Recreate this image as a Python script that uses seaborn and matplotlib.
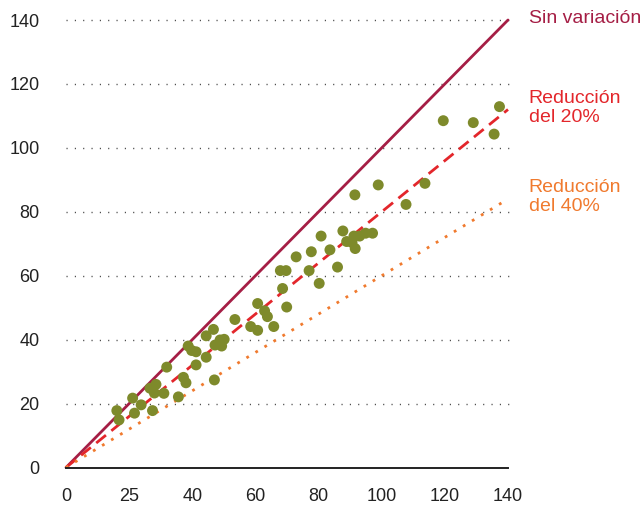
import numpy as np
import pandas as pd
import matplotlib
matplotlib.use("Agg")
import matplotlib.pyplot as plt
import seaborn as sns

# ---- data ----
x_vals = [16.1, 16.8, 21.1, 21.7, 23.8, 27.4, 26.6, 28.5, 28.0, 31.0,
          31.9, 35.6, 37.2, 38.0, 38.7, 39.8, 41.2, 41.2, 44.4, 47.0,
          44.4, 46.7, 47.2, 48.8, 49.3, 50.1, 53.5, 58.5, 60.7, 65.8,
          60.7, 62.9, 63.8, 69.9, 68.6, 67.9, 69.7, 72.9, 77.0, 80.2,
          77.7, 80.8, 83.6, 86.0, 87.7, 88.9, 90.6, 91.6, 91.2, 93.0,
          94.9, 97.1, 91.5, 98.9, 107.7, 113.7, 119.5, 129.0, 135.6, 137.3]
y_vals = [17.8, 14.9, 21.7, 17.0, 19.6, 17.8, 24.8, 26.0, 23.3, 23.2,
          31.4, 22.1, 28.2, 26.5, 38.0, 36.6, 36.2, 32.1, 34.5, 27.4,
          41.2, 43.2, 38.3, 39.9, 38.0, 40.1, 46.3, 44.1, 42.9, 44.1,
          51.3, 49.0, 47.2, 50.2, 56.0, 61.6, 61.6, 65.9, 61.6, 57.6,
          67.5, 72.4, 68.1, 62.7, 74.0, 70.7, 70.4, 68.5, 72.4, 72.4,
          73.3, 73.3, 85.3, 88.4, 82.3, 88.9, 108.5, 107.9, 104.3, 112.9]

ratios = [1.0, 0.8, 0.6]
ratio_labels = ["Sin variación", "Reducción\ndel 20%", "Reducción\ndel 40%"]
ratio_colors = ["#A51E45", "#E3262B", "#F07A2E"]
ratio_styles = ["-", (0, (4.5, 2.5)), (0, (1, 2.8))]

x_range = [0, 140]
y_ticks = [0, 20, 40, 60, 80, 100, 120, 140]
x_ticks = [0, 20, 40, 60, 80, 100, 120, 140]
x_ticklabels = ["0", "25", "40", "60", "80", "100", "120", "140"]

point_color = "#7E8A2B"

# ---- plot ----
sns.set_style("white")
plt.rcParams["font.family"] = ["Liberation Sans", "DejaVu Sans"]

fig = plt.figure(figsize=(6.44, 5.08), dpi=100)
ax = fig.add_axes([66 / 644, 1 - 467.5 / 508, (508 - 66) / 644, (467.5 - 20) / 508])

df_pts = pd.DataFrame({"x": x_vals, "y": y_vals})

for r, lab, col, ls in zip(ratios, ratio_labels, ratio_colors, ratio_styles):
    dfl = pd.DataFrame({"x": x_range, "y": [v * r for v in x_range]})
    sns.lineplot(data=dfl, x="x", y="y", ax=ax, color=col, linewidth=2.0,
                 linestyle=ls, clip_on=False, zorder=2)
    ax.text(146.5, x_range[1] * r + 0.5, lab, color=col, fontsize=14,
            ha="left", va="center", linespacing=1.15, clip_on=False)

sns.scatterplot(data=df_pts, x="x", y="y", ax=ax, color=point_color, s=62,
                edgecolor="none", linewidth=0, zorder=3, clip_on=False)

ax.set_xlim(0, 140)
ax.set_ylim(0, 140)
ax.set_xticks(x_ticks)
ax.set_xticklabels(x_ticklabels)
ax.set_yticks(y_ticks)
ax.set_xlabel("")
ax.set_ylabel("")

for yt in y_ticks[1:]:
    ax.axhline(yt, color="#444444", linewidth=1.0, linestyle=(0, (0.8, 5.2)),
               zorder=1, xmax=1.005, clip_on=False)

for s in ["top", "right", "left"]:
    ax.spines[s].set_visible(False)
ax.spines["bottom"].set_color("#222222")
ax.spines["bottom"].set_linewidth(1.4)

ax.tick_params(axis="both", length=0, labelsize=13, colors="#222222")
ax.tick_params(axis="y", pad=19)
ax.tick_params(axis="x", pad=15)

fig.savefig("out.png", dpi=100)
